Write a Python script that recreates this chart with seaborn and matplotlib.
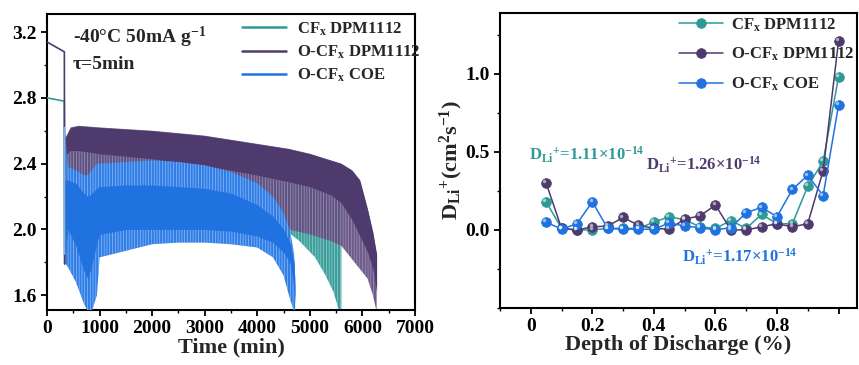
import numpy as np
import pandas as pd
import matplotlib
matplotlib.use('Agg')
import matplotlib.pyplot as plt
import seaborn as sns
from matplotlib.ticker import MultipleLocator, FixedLocator
from matplotlib.lines import Line2D
import matplotlib.transforms as mtransforms

# ---------------- Left panel: GITT at -40 C ----------------
series_names = ['CF$_\\mathrm{x}$ DPM1112', 'O-CF$_\\mathrm{x}$ DPM1112', 'O-CF$_\\mathrm{x}$ COE']

# initial rest segments
rest_t_cf = [0, 330, 336]
rest_v_cf = [2.80, 2.78, 1.79]
rest_t_ocf = [0, 330, 336]
rest_v_ocf = [3.14, 3.08, 1.79]
rest_t_coe = [330, 334]
rest_v_coe = [2.62, 1.85]

# CFx DPM1112 envelopes
cf_t = [340, 500, 1000, 2000, 3000, 4000, 4600, 4800, 5100, 5300, 5450, 5550, 5600]
cf_up = [2.40, 2.50, 2.50, 2.48, 2.45, 2.40, 2.35, 2.33, 2.30, 2.27, 2.25, 2.23, 2.20]
cf_lo = [1.80, 2.05, 2.05, 2.03, 2.02, 2.00, 1.98, 1.93, 1.83, 1.72, 1.62, 1.51, 1.50]

# O-CFx DPM1112 envelopes
ocf_t = [340, 450, 600, 1000, 2000, 3000, 4000, 4600, 5000, 5400, 5600, 5700, 5800, 5950, 6100, 6200, 6270]
ocf_up = [2.55, 2.62, 2.63, 2.62, 2.60, 2.57, 2.52, 2.49, 2.46, 2.42, 2.40, 2.38, 2.36, 2.30, 2.12, 1.98, 1.85]
ocf_core = [2.45, 2.48, 2.48, 2.46, 2.43, 2.39, 2.33, 2.29, 2.26, 2.21, 2.16, 2.11, 2.06, 1.96, 1.86, 1.76, 1.62]
ocf_lo = [1.80, 2.20, 2.20, 2.15, 2.10, 2.05, 2.02, 2.00, 1.97, 1.93, 1.90, 1.86, 1.82, 1.76, 1.70, 1.60, 1.50]

# O-CFx COE envelopes
coe_t = [334, 400, 550, 700, 780, 850, 950, 1000, 1500, 2000, 2500, 3000, 3500, 4000, 4300, 4500, 4620, 4700, 4720]
coe_up = [2.62, 2.38, 2.36, 2.33, 2.33, 2.36, 2.40, 2.40, 2.41, 2.42, 2.41, 2.39, 2.35, 2.28, 2.20, 2.10, 2.00, 1.85, 1.70]
coe_core_up = [2.30, 2.30, 2.28, 2.22, 2.20, 2.22, 2.25, 2.26, 2.27, 2.27, 2.26, 2.25, 2.22, 2.15, 2.08, 2.00, 1.92, 1.80, 1.65]
coe_core_lo = [1.85, 2.00, 1.90, 1.75, 1.70, 1.78, 1.92, 1.97, 2.00, 2.00, 2.00, 2.00, 1.99, 1.96, 1.92, 1.86, 1.80, 1.65, 1.55]
coe_lo = [1.80, 1.77, 1.68, 1.55, 1.50, 1.50, 1.60, 1.83, 1.87, 1.91, 1.92, 1.92, 1.91, 1.89, 1.83, 1.72, 1.58, 1.50, 1.50]

# ---------------- Right panel: diffusion coefficient ----------------
dod = [0.05, 0.10, 0.15, 0.20, 0.25, 0.30, 0.35, 0.40, 0.45, 0.50,
       0.55, 0.60, 0.65, 0.70, 0.75, 0.80, 0.85, 0.90, 0.95, 1.00]
d_cf = [0.18, 0.01, 0.00, 0.00, 0.01, 0.01, 0.01, 0.05, 0.085, 0.065,
        0.02, 0.01, 0.06, 0.01, 0.10, 0.04, 0.04, 0.28, 0.44, 0.98]
d_ocf = [0.30, 0.01, 0.00, 0.02, 0.025, 0.08, 0.03, 0.01, 0.005, 0.07,
         0.09, 0.16, 0.00, 0.00, 0.02, 0.04, 0.02, 0.04, 0.38, 1.21]
d_coe = [0.05, 0.005, 0.04, 0.18, 0.01, 0.005, 0.005, 0.005, 0.045, 0.025,
         0.015, 0.00, 0.015, 0.11, 0.145, 0.085, 0.26, 0.35, 0.22, 0.80]

x_ticks_right = [0, 0.2, 0.4, 0.6, 0.8, 1.0]
x_ticklabels_right = ['0', '0.2', '0.4', '0.6', '0.8', '']
x_ticks_left = [0, 1000, 2000, 3000, 4000, 5000, 6000, 7000]
y_ticks_left = [1.6, 2.0, 2.4, 2.8, 3.2]
y_ticks_right = [0.0, 0.5, 1.0]

c_teal = '#2e9a96'
c_purple = '#4f3a6e'
c_blue = '#1f72e0'
# outer (striped) band: face colour + lighter stripes
c_teal_f, c_teal_h = '#3c9f9b', '#a3d4d0'
c_purple_f, c_purple_h = '#614e80', '#ab9cc2'
c_blue_f, c_blue_h = '#2f7ee8', '#9cc2f4'

sns.set_theme(style='ticks')
plt.rcParams['font.family'] = ['Liberation Serif', 'DejaVu Serif']
plt.rcParams['font.weight'] = 'bold'
plt.rcParams['axes.labelweight'] = 'bold'
plt.rcParams['mathtext.fontset'] = 'custom'
plt.rcParams['mathtext.rm'] = 'Liberation Serif:bold'
plt.rcParams['mathtext.bf'] = 'Liberation Serif:bold'
plt.rcParams['mathtext.it'] = 'Liberation Serif:italic:bold'
plt.rcParams['hatch.linewidth'] = 0.45
plt.rcParams['axes.linewidth'] = 1.5
plt.rcParams['xtick.major.width'] = 1.3
plt.rcParams['ytick.major.width'] = 1.3
plt.rcParams['xtick.minor.width'] = 1.0
plt.rcParams['ytick.minor.width'] = 1.0
plt.rcParams['xtick.major.size'] = 4
plt.rcParams['ytick.major.size'] = 4
plt.rcParams['xtick.minor.size'] = 2.5
plt.rcParams['ytick.minor.size'] = 2.5
plt.rcParams['xtick.color'] = 'black'
plt.rcParams['ytick.color'] = 'black'
plt.rcParams['axes.edgecolor'] = 'black'

fig = plt.figure(figsize=(8.59, 3.65), dpi=100)
axL = fig.add_axes([47/859, 55/365, 368/859, 296/365])
axR = fig.add_axes([500/859, 57/365, 357/859, 295/365])

# ---- left ----
HATCH = '|' * 6
axL.fill_between(cf_t, cf_lo, cf_up, facecolor=c_teal_f, edgecolor=c_teal_h,
                 hatch=HATCH, linewidth=0, zorder=1)
axL.fill_between(ocf_t, ocf_lo, ocf_up, facecolor=c_purple_f, edgecolor=c_purple_h,
                 hatch=HATCH, linewidth=0, alpha=0.92, zorder=2)
axL.fill_between(ocf_t, ocf_core, ocf_up, facecolor=c_purple, edgecolor=c_purple,
                 linewidth=0, zorder=2.1)
axL.fill_between(coe_t, coe_lo, coe_up, facecolor=c_blue_f, edgecolor=c_blue_h,
                 hatch=HATCH, linewidth=0, zorder=3)
axL.fill_between(coe_t, coe_core_lo, coe_core_up, facecolor=c_blue, edgecolor=c_blue,
                 linewidth=0, zorder=3.1)
sns.lineplot(x=rest_t_cf, y=rest_v_cf, color=c_teal, lw=1.2, ax=axL, sort=False, zorder=4)
sns.lineplot(x=rest_t_ocf, y=rest_v_ocf, color=c_purple, lw=1.2, ax=axL, sort=False, zorder=4)
sns.lineplot(x=rest_t_coe, y=rest_v_coe, color='#80b2f2', lw=1.2, ax=axL, sort=False, zorder=4)

axL.set_xlim(0, 7000)
axL.set_ylim(1.51, 3.31)
axL.xaxis.set_major_locator(FixedLocator(x_ticks_left))
axL.xaxis.set_minor_locator(MultipleLocator(500))
axL.yaxis.set_major_locator(FixedLocator(y_ticks_left))
axL.yaxis.set_minor_locator(MultipleLocator(0.2))
axL.set_yticklabels([f'{v:.1f}' for v in y_ticks_left])
axL.set_xticklabels([str(v) for v in x_ticks_left])
axL.tick_params(axis='both', which='both', direction='out', labelsize=14)
axL.set_xlabel('Time (min)', fontsize=16, labelpad=0)
axL.set_ylabel('')
for s in axL.spines.values():
    s.set_visible(True)
axL.text(0.07, 0.92, '-40°C 50mA g$^{-1}$', transform=axL.transAxes,
         fontsize=14, fontweight='bold', va='center', ha='left')
axL.text(0.07, 0.83, 'τ=5min', transform=axL.transAxes,
         fontsize=14, fontweight='bold', va='center', ha='left')
handlesL = [Line2D([], [], color=c_teal, lw=1.8),
            Line2D([], [], color=c_purple, lw=1.8),
            Line2D([], [], color=c_blue, lw=1.8)]
legL = axL.legend(handlesL, series_names, loc='upper left', bbox_to_anchor=(0.49, 1.03),
                  frameon=False, fontsize=12, handlelength=2.6, labelspacing=0.35,
                  handletextpad=0.7)

# ---- right ----
for yv, col, name in [(d_cf, c_teal, series_names[0]),
                      (d_ocf, c_purple, series_names[1]),
                      (d_coe, c_blue, series_names[2])]:
    sns.lineplot(x=dod, y=yv, color=col, lw=1.1, marker='o', markersize=7,
                 markeredgecolor=col, markeredgewidth=0.5, ax=axR, label=name, sort=False)
    hl = mtransforms.offset_copy(axR.transData, fig=fig, x=-1.3, y=1.3, units='points')
    axR.plot(dod, yv, linestyle='none', marker='o', markersize=2.5, color='white',
             alpha=0.55, markeredgewidth=0, transform=hl, zorder=5)

axR.set_xlim(-0.1, 1.06)
axR.set_ylim(-0.5, 1.39)
axR.xaxis.set_major_locator(FixedLocator(x_ticks_right))
axR.xaxis.set_minor_locator(MultipleLocator(0.1))
axR.set_xticklabels(x_ticklabels_right)
axR.yaxis.set_major_locator(FixedLocator(y_ticks_right))
axR.yaxis.set_minor_locator(MultipleLocator(0.25))
axR.set_yticklabels([f'{v:.1f}' for v in y_ticks_right])
axR.tick_params(axis='both', which='both', direction='out', labelsize=14)
axR.set_xlabel('Depth of Discharge (%)', fontsize=16, labelpad=0)
axR.set_ylabel('D$_{\\mathrm{Li}}$$^{+}$(cm$^{2}$s$^{-1}$)', fontsize=16, labelpad=0)
axR.text(-0.005, 0.48, 'D$_{\\mathrm{Li}}$$^{+}$=1.11×10$^{-14}$', color=c_teal,
         fontsize=12, fontweight='bold', va='center', ha='left')
axR.text(0.375, 0.42, 'D$_{\\mathrm{Li}}$$^{+}$=1.26×10$^{-14}$', color=c_purple,
         fontsize=12, fontweight='bold', va='center', ha='left')
axR.text(0.49, -0.17, 'D$_{\\mathrm{Li}}$$^{+}$=1.17×10$^{-14}$', color=c_blue,
         fontsize=12, fontweight='bold', va='center', ha='left')
handlesR, labelsR = axR.get_legend_handles_labels()
axR.legend(handlesR[:3], labelsR[:3], loc='upper left', bbox_to_anchor=(0.46, 1.04),
           frameon=False, fontsize=12, handlelength=2.6, labelspacing=0.75,
           handletextpad=0.5, numpoints=1)

fig.savefig('out.png', dpi=100)
